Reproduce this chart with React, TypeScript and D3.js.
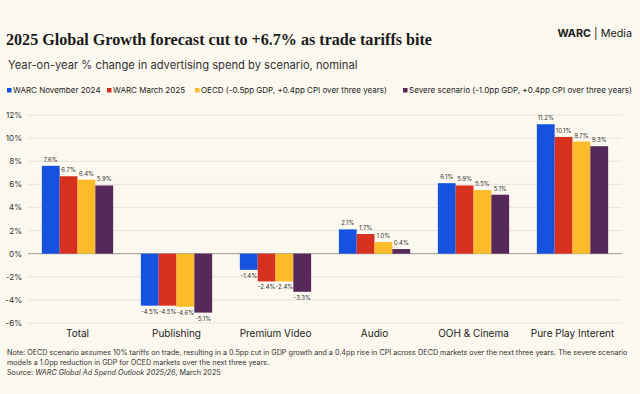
import React from "react";
import * as d3 from "d3";

const categories = ["Total", "Publishing", "Premium Video", "Audio", "OOH & Cinema", "Pure Play Interent"];
const seriesNames = [
  "WARC November 2024",
  "WARC March 2025",
  "OECD (-0.5pp GDP, +0.4pp CPI over three years)",
  "Severe scenario (-1.0pp GDP, +0.4pp CPI over three years)",
];
const novValues = [7.6, -4.5, -1.4, 2.1, 6.1, 11.2];
const marValues = [6.7, -4.5, -2.4, 1.7, 5.9, 10.1];
const oecdValues = [6.4, -4.6, -2.4, 1.0, 5.5, 9.7];
const severeValues = [5.9, -5.1, -3.3, 0.4, 5.1, 9.3];
const yTicks = [-6, -4, -2, 0, 2, 4, 6, 8, 10, 12];
const colors = ["#1652df", "#d8301f", "#fdbb2a", "#57295a"];

const W = 640;
const H = 394;
const SANS = "Inter, 'Noto Sans', sans-serif";

export default function App() {
  const series = [novValues, marValues, oecdValues, severeValues];
  const x0 = d3.scaleBand<string>().domain(categories).range([28, 622]).paddingInner(0.28).paddingOuter(0.14);
  const x1 = d3.scaleBand<number>().domain(d3.range(series.length)).range([0, x0.bandwidth()]).padding(0);
  const y = d3.scaleLinear().domain([-6, 12]).range([323, 115]);
  const fmt = (v: number) => `${v.toFixed(1)}%`;

  const legendX = [7, 107, 195, 403];

  return (
    <svg width={W} height={H} style={{ display: "block", position: "absolute", left: 0, top: 0 }}>
      <rect x={0} y={0} width={W} height={H} fill="#fbf8ef" />
      <text
        x={6}
        y={45}
        fontFamily="'Liberation Serif', serif"
        fontSize={17.5}
        fontWeight={700}
        fill="#1a1a1a"
        textLength={426}
        lengthAdjust="spacingAndGlyphs"
      >
        2025 Global Growth forecast cut to +6.7% as trade tariffs bite
      </text>
      <text x={632} y={37} textAnchor="end" fontFamily={SANS} fontSize={10.8} fill="#1a1a1a">
        <tspan fontWeight={700}>WARC</tspan>
        <tspan> | Media</tspan>
      </text>
      <text x={8} y={69} fontFamily={SANS} fontSize={11.2} fill="#333">
        Year-on-year % change in advertising spend by scenario, nominal
      </text>
      {seriesNames.map((n, i) => (
        <g key={n}>
          <rect x={legendX[i]} y={88} width={4.5} height={4.5} fill={colors[i]} />
          <text x={legendX[i] + 6} y={93} fontFamily={SANS} fontSize={8} fill="#222">
            {n}
          </text>
        </g>
      ))}
      {yTicks.map((t) => (
        <g key={t}>
          <line x1={28} x2={622} y1={y(t)} y2={y(t)} stroke={t === 0 ? "#9a9a96" : "#e8e4da"} strokeWidth={1} />
          <text x={22} y={y(t) + 3} textAnchor="end" fontFamily={SANS} fontSize={8} fill="#333">
            {`${t}%`}
          </text>
        </g>
      ))}
      {categories.map((c, ci) => (
        <g key={c} transform={`translate(${x0(c)},0)`}>
          {series.map((s, si) => {
            const v = s[ci];
            const top = Math.min(y(v), y(0));
            const h = Math.abs(y(v) - y(0));
            const bx = x1(si)!;
            const bw = x1.bandwidth();
            return (
              <g key={si}>
                <rect x={bx} y={top} width={bw} height={h} fill={colors[si]} />
                <text
                  x={bx + bw / 2}
                  y={v >= 0 ? y(v) - 4 : y(v) + 8}
                  textAnchor="middle"
                  fontFamily={SANS}
                  fontSize={6}
                  fill="#333"
                >
                  {fmt(v)}
                </text>
              </g>
            );
          })}
          <text x={x0.bandwidth() / 2} y={337} textAnchor="middle" fontFamily={SANS} fontSize={10} fill="#222">
            {c}
          </text>
        </g>
      ))}
      <g fontFamily={SANS} fontSize={7.2} fill="#333">
        <text x={7} y={355}>
          Note: OECD scenario assumes 10% tariffs on trade, resulting in a 0.5pp cut in GDP growth and a 0.4pp rise in CPI across OECD markets over the next three years. The severe scenario
        </text>
        <text x={7} y={365}>models a 1.0pp reduction in GDP for OCED markets over the next three years.</text>
        <text x={7} y={374.5}>
          Source: <tspan fontStyle="italic">WARC Global Ad Spend Outlook 2025/26</tspan>, March 2025
        </text>
      </g>
    </svg>
  );
}
